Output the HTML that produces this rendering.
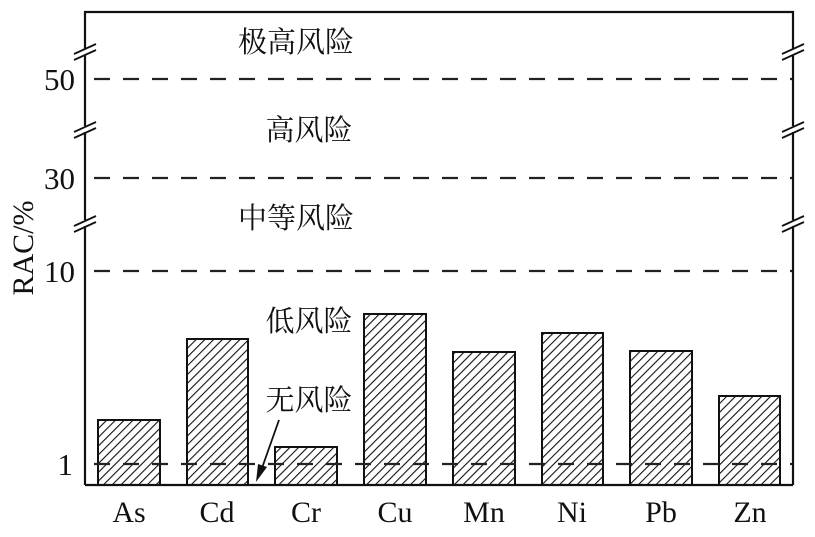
<!DOCTYPE html>
<html><head><meta charset="utf-8"><style>
body{margin:0;background:#fff}
text{font-family:"Liberation Serif","Noto Serif CJK SC",serif;fill:#111}
.cj{font-family:"Liberation Sans","Noto Sans CJK SC",sans-serif;font-size:29px}
</style></head><body>
<svg width="815" height="532" xmlns="http://www.w3.org/2000/svg">
<defs>
<pattern id="h" width="6.2" height="6.2" patternUnits="userSpaceOnUse" patternTransform="rotate(45)">
<rect width="6.2" height="6.2" fill="#fff"/><line x1="0" y1="0" x2="0" y2="6.2" stroke="#111" stroke-width="2.2"/>
</pattern>
</defs>
<g stroke="#111" stroke-width="2" fill="url(#h)">
<rect x="98" y="420" width="62" height="65"/>
<rect x="187" y="339" width="61" height="146"/>
<rect x="275" y="447" width="62" height="38"/>
<rect x="364" y="314" width="62" height="171"/>
<rect x="453" y="352" width="62" height="133"/>
<rect x="542" y="333" width="61" height="152"/>
<rect x="630" y="351" width="62" height="134"/>
<rect x="719" y="396" width="61" height="89"/>
</g>
<g stroke="#222" stroke-width="2.2" stroke-dasharray="16 13" stroke-dashoffset="-9">
<line x1="85" y1="79" x2="793" y2="79"/>
<line x1="85" y1="178" x2="793" y2="178"/>
<line x1="85" y1="271" x2="793" y2="271"/>
<line x1="85" y1="464" x2="793" y2="464"/>
</g>
<g stroke="#111" stroke-width="2.2" fill="none">
<polyline points="85,49 85,12 793,12 793,49"/>
<line x1="85" y1="55" x2="85" y2="126"/><line x1="793" y1="55" x2="793" y2="126"/>
<line x1="85" y1="132" x2="85" y2="220"/><line x1="793" y1="132" x2="793" y2="220"/>
<line x1="85" y1="226" x2="85" y2="485"/><line x1="793" y1="226" x2="793" y2="485"/>
<line x1="85" y1="485" x2="793" y2="485"/>
<g stroke-width="1.8">
<line x1="74" y1="54" x2="96" y2="44"/><line x1="74" y1="60" x2="96" y2="50"/>
<line x1="782" y1="54" x2="804" y2="44"/><line x1="782" y1="60" x2="804" y2="50"/>
<line x1="74" y1="132" x2="96" y2="122"/><line x1="74" y1="138" x2="96" y2="128"/>
<line x1="782" y1="132" x2="804" y2="122"/><line x1="782" y1="138" x2="804" y2="128"/>
<line x1="74" y1="226" x2="96" y2="216"/><line x1="74" y1="232" x2="96" y2="222"/>
<line x1="782" y1="226" x2="804" y2="216"/><line x1="782" y1="232" x2="804" y2="222"/>
</g>
<line x1="279" y1="420" x2="262" y2="468" stroke-width="1.8"/>
</g>
<polygon points="256,482 258,464 267,467" fill="#111"/>
<g font-size="31" text-anchor="end">
<text x="75" y="90">50</text><text x="75" y="189">30</text><text x="75" y="282">10</text><text x="73" y="475">1</text>
</g>
<text font-size="30" transform="translate(33,248) rotate(-90)" text-anchor="middle">RAC/%</text>
<g font-size="30" text-anchor="middle">
<text x="129" y="522">As</text><text x="217" y="522">Cd</text><text x="306" y="522">Cr</text><text x="395" y="522">Cu</text>
<text x="484" y="522">Mn</text><text x="572" y="522">Ni</text><text x="661" y="522">Pb</text><text x="750" y="522">Zn</text>
</g>
<g class="cj" text-anchor="middle">
<text x="296" y="52">极高风险</text>
<text x="309" y="140">高风险</text>
<text x="296" y="228">中等风险</text>
<text x="309" y="331">低风险</text>
<text x="309" y="410">无风险</text>
</g>
</svg>
</body></html>
